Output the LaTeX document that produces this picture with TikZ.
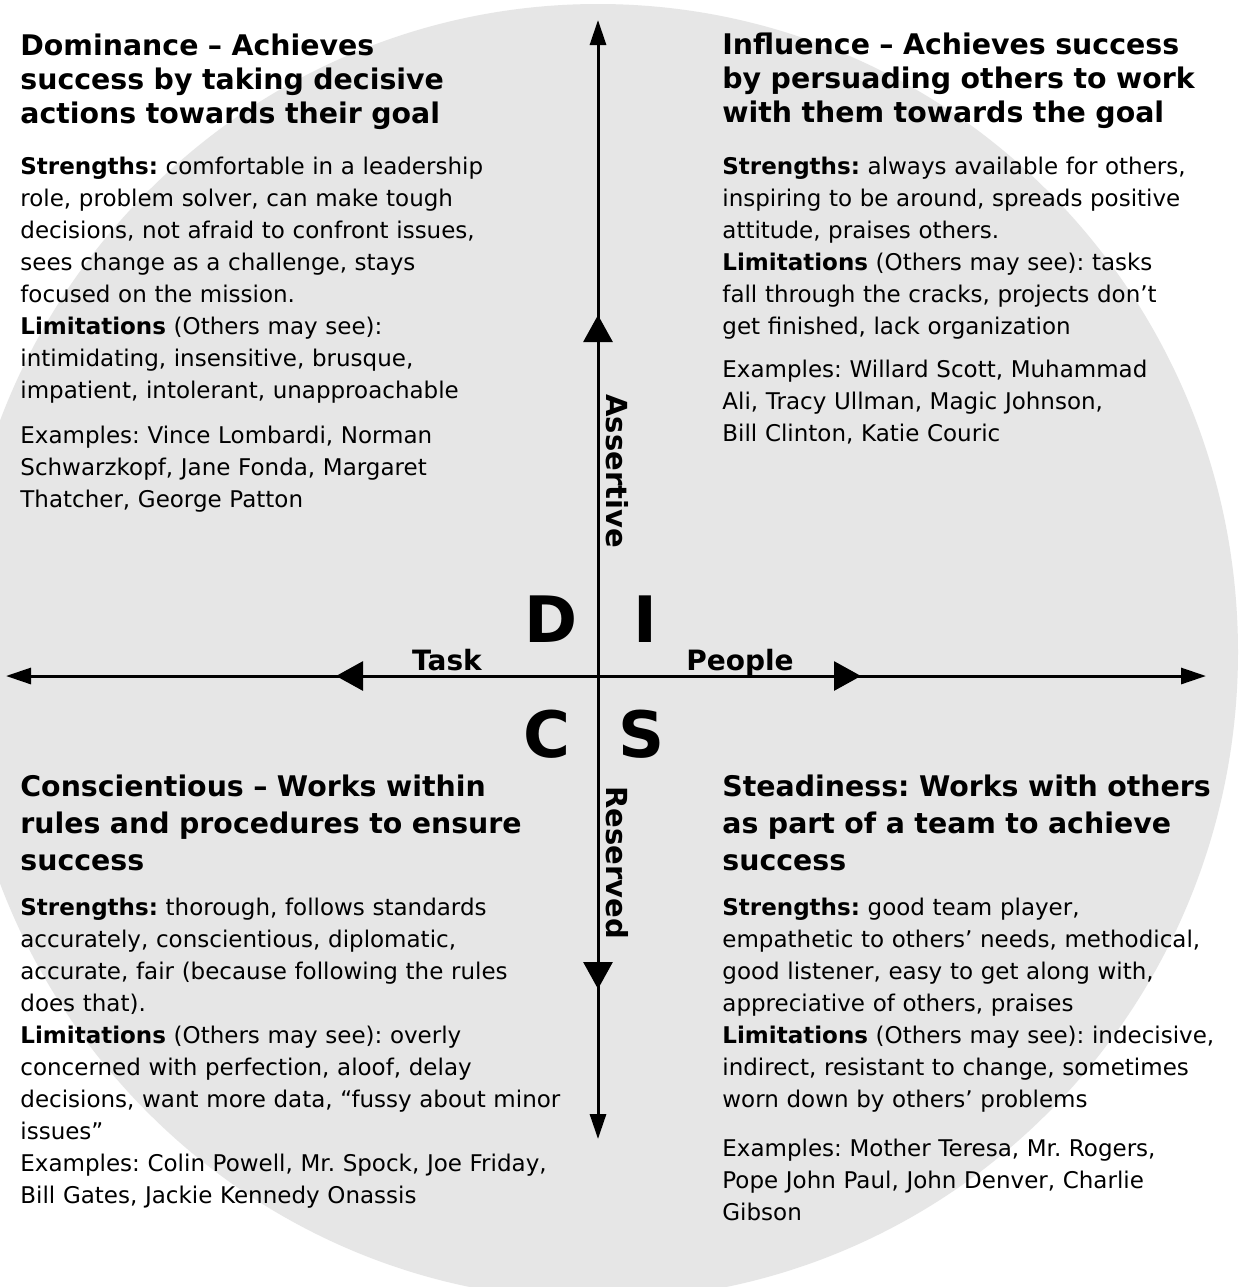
\documentclass[tikz,border=0pt]{standalone}
\usepackage{fontspec}
\setmainfont{DejaVu Sans}
\usetikzlibrary{arrows.meta}
\definecolor{discgray}{RGB}{230,230,230}
\frenchspacing
\begin{document}
\begin{tikzpicture}[x=0.5pt,y=-0.5pt,
  axis/.style={line width=1.5pt,black},
  endtip/.style={-{Triangle[length=12.5pt,width=8pt]}},
  midtip/.style={-{Triangle[length=13.5pt,width=14.5pt]}},
  headtop/.style={anchor=base west,inner sep=0pt,text width=300pt,align=left,font=\fontsize{14.2pt}{17pt}\selectfont\bfseries},
  headbot/.style={anchor=base west,inner sep=0pt,text width=300pt,align=left,font=\fontsize{14.2pt}{18.5pt}\selectfont\bfseries},
  body/.style={anchor=base west,inner sep=0pt,text width=300pt,align=left,font=\fontsize{11.5pt}{16pt}\selectfont},
  bigletter/.style={anchor=base,inner sep=0pt,font=\fontsize{32pt}{32pt}\selectfont\bfseries},
  axislabel/.style={anchor=base,inner sep=0pt,font=\fontsize{14pt}{14pt}\selectfont\bfseries},
  vlabel/.style={anchor=base west,inner sep=0pt,rotate=-90,font=\fontsize{14.5pt}{14.5pt}\selectfont\bfseries}]
\useasboundingbox (0,0) rectangle (1240,1287);
\fill[white] (0,0) rectangle (1240,1287);
\begin{scope}
  \clip (0,0) rectangle (1240,1287);
  \fill[discgray] (598,652) ellipse [x radius=320pt, y radius=324pt];
\end{scope}

% axes
\coordinate (O) at (598,676);
\coordinate (Ntip) at (598,20);
\coordinate (Nmid) at (598,315);
\coordinate (Stip) at (598,1139);
\coordinate (Smid) at (598,989);
\coordinate (Wtip) at (6,676);
\coordinate (Wmid) at (336,676);
\coordinate (Etip) at (1206,676);
\coordinate (Emid) at (861,676);
\draw[axis,endtip] (O) -- (Ntip);
\draw[axis,endtip] (O) -- (Stip);
\draw[axis,endtip] (O) -- (Wtip);
\draw[axis,endtip] (O) -- (Etip);
\draw[axis,midtip] (O) -- (Nmid);
\draw[axis,midtip] (O) -- (Smid);
\draw[axis,midtip] (O) -- (Wmid);
\draw[axis,midtip] (O) -- (Emid);

% letters and axis labels
\node[bigletter] (D) at (551,642) {D};
\node[bigletter] (I) at (645,642) {I};
\node[bigletter] (C) at (547,757) {C};
\node[bigletter] (S) at (642,757) {S};
\node[axislabel] (task) at (447,670) {Task};
\node[axislabel] (people) at (740,670) {People};
\node[vlabel] (assertive) at (606,394) {Assertive};
\node[vlabel] (reserved) at (606,786) {Reserved};

% Dominance
\node[headtop] (dhead) at (20,55) {Dominance – Achieves\\ success by taking decisive\\ actions towards their goal};
\node[body] (dbody) at (20,174) {\textbf{Strengths:} comfortable in a leadership\\ role, problem solver, can make tough\\ decisions, not afraid to confront issues,\\ sees change as a challenge, stays\\ focused on the mission.\\ \textbf{Limitations} (Others may see):\\ intimidating, insensitive, brusque,\\ impatient, intolerant, unapproachable};
\node[body] (dex) at (20,443) {Examples: Vince Lombardi, Norman\\ Schwarzkopf, Jane Fonda, Margaret\\ Thatcher, George Patton};

% Influence
\node[headtop] (ihead) at (722,54) {Influence – Achieves success\\ by persuading others to work\\ with them towards the goal};
\node[body] (ibody) at (722,174) {\textbf{Strengths:} always available for others,\\ inspiring to be around, spreads positive\\ attitude, praises others.\\ \textbf{Limitations} (Others may see): tasks\\ fall through the cracks, projects don’t\\ get finished, lack organization};
\node[body] (iex) at (722,377) {Examples: Willard Scott, Muhammad\\ Ali, Tracy Ullman, Magic Johnson,\\ Bill Clinton, Katie Couric};

% Conscientious
\node[headbot] (chead) at (20,796) {Conscientious – Works within\\ rules and procedures to ensure\\ success};
\node[body] (cbody) at (20,915) {\textbf{Strengths:} thorough, follows standards\\ accurately, conscientious, diplomatic,\\ accurate, fair (because following the rules\\ does that).\\ \textbf{Limitations} (Others may see): overly\\ concerned with perfection, aloof, delay\\ decisions, want more data, “fussy about minor\\ issues”\\ Examples: Colin Powell, Mr. Spock, Joe Friday,\\ Bill Gates, Jackie Kennedy Onassis};

% Steadiness
\node[headbot] (shead) at (722,796) {Steadiness: Works with others\\ as part of a team to achieve\\ success};
\node[body] (sbody) at (722,915) {\textbf{Strengths:} good team player,\\ empathetic to others’ needs, methodical,\\ good listener, easy to get along with,\\ appreciative of others, praises\\ \textbf{Limitations} (Others may see): indecisive,\\ indirect, resistant to change, sometimes\\ worn down by others’ problems};
\node[body] (sex) at (722,1156) {Examples: Mother Teresa, Mr. Rogers,\\ Pope John Paul, John Denver, Charlie\\ Gibson};
\end{tikzpicture}
\end{document}
